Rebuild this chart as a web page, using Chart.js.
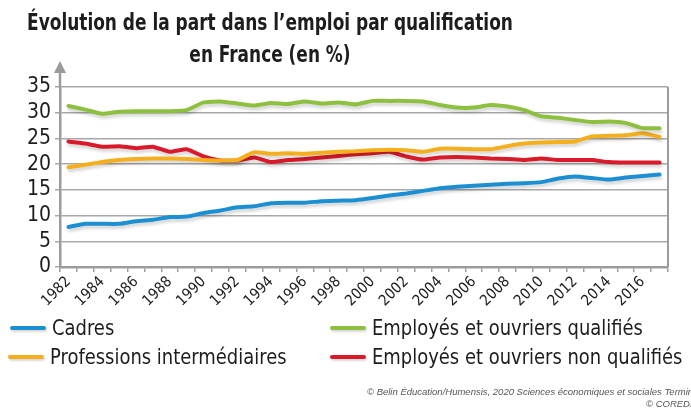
<!DOCTYPE html>
<html lang="fr">
<head>
<meta charset="utf-8">
<script src="https://cdn.jsdelivr.net/npm/chart.js@4.4.1/dist/chart.umd.min.js"></script>
<style>
  html, body { margin: 0; padding: 0; background: #fff; }
  body { width: 691px; height: 411px; position: relative; overflow: hidden; color: #1d1d1b;
         font-family: "DejaVu Sans Condensed", "DejaVu Sans", sans-serif; }
  #chartBox { position: absolute; left: 0; top: 0; width: 691px; height: 411px; }
  .title { position: absolute; left: 270px; font-weight: bold; font-size: 23px; line-height: 26px; white-space: nowrap;
           transform: translateX(-50%) scaleX(0.82); }
  .leg { position: absolute; font-size: 21px; white-space: nowrap; line-height: 22px; }
  .leg i { display: inline-block; width: 36px; height: 4px; border-radius: 2px; vertical-align: middle; margin-right: 6px; position: relative; top: -1px; box-shadow: 1px 2px 2px rgba(0,0,0,0.15); }
  .leg span { display: inline-block; transform: scaleX(0.95); transform-origin: left center; }
  .credit { position: absolute; font-family: "Liberation Sans", sans-serif; font-style: italic; font-size: 9.5px; color: #555; white-space: nowrap; }
</style>
</head>
<body>
<div id="chartBox"><canvas id="myChart" width="691" height="411"></canvas></div>
<div class="title" style="top:9px">Évolution de la part dans l’emploi par qualification</div>
<div class="title" style="top:41px">en France (en %)</div>

<div class="leg" style="left:10px;top:317px"><i style="background:#1b8fd2"></i><span>Cadres</span></div>
<div class="leg" style="left:330px;top:317px"><i style="background:#8dc03f"></i><span>Employés et ouvriers qualifiés</span></div>
<div class="leg" style="left:8px;top:346px"><i style="background:#f4ae1e"></i><span>Professions intermédiaires</span></div>
<div class="leg" style="left:330px;top:346px"><i style="background:#d91a2a"></i><span>Employés et ouvriers non qualifiés</span></div>

<div class="credit" style="left:367px;top:386px">© Belin Éducation/Humensis, 2020 Sciences économiques et sociales Terminale</div>
<div class="credit" style="left:646px;top:398px">© COREDIS</div>

<script>
// années et séries (en % de l'emploi)
const years = [
  "1982", "1983", "1984", "1985", "1986", "1987", "1988", "1989", "1990", "1991", "1992", "1993",
  "1994", "1995", "1996", "1997", "1998", "1999", "2000", "2001", "2002", "2003", "2004", "2005",
  "2006", "2007", "2008", "2009", "2010", "2011", "2012", "2013", "2014", "2015", "2016", "2017",
];
const cadres = [
  7.8, 8.4, 8.4, 8.4, 8.9, 9.2, 9.7, 9.8, 10.5, 11.0, 11.6, 11.8,
  12.4, 12.5, 12.5, 12.8, 12.9, 13.0, 13.4, 13.9, 14.3, 14.8, 15.3, 15.6,
  15.8, 16.0, 16.2, 16.3, 16.5, 17.2, 17.6, 17.3, 17.0, 17.4, 17.7, 18.0,
];
const qualifies = [
  31.3, 30.6, 29.8, 30.2, 30.3, 30.3, 30.3, 30.5, 32.0, 32.2, 31.8, 31.4,
  31.9, 31.7, 32.2, 31.8, 32.0, 31.6, 32.3, 32.3, 32.3, 32.2, 31.5, 31.0,
  31.0, 31.5, 31.2, 30.5, 29.3, 29.0, 28.6, 28.2, 28.3, 28.0, 27.0, 27.0,
];
const intermediaires = [
  19.4, 19.9, 20.4, 20.8, 21.0, 21.1, 21.1, 21.0, 20.8, 20.7, 20.8, 22.3,
  22.0, 22.1, 22.0, 22.2, 22.4, 22.5, 22.7, 22.8, 22.7, 22.4, 23.0, 23.0,
  22.9, 22.9, 23.5, 24.0, 24.2, 24.3, 24.4, 25.4, 25.5, 25.6, 26.0, 25.3,
];
const nonQualifies = [
  24.4, 24.0, 23.4, 23.5, 23.1, 23.4, 22.4, 22.9, 21.5, 20.7, 20.7, 21.3,
  20.4, 20.8, 21.0, 21.3, 21.6, 21.9, 22.1, 22.4, 21.5, 20.9, 21.3, 21.4,
  21.3, 21.1, 21.0, 20.8, 21.1, 20.8, 20.8, 20.8, 20.4, 20.3, 20.3, 20.3,
];

const FONT = "'DejaVu Sans Condensed', 'DejaVu Sans', sans-serif";
const AXIS = "#9b9b9b";

// ombre légère sous chaque courbe
const lineShadow = {
  id: "lineShadow",
  beforeDatasetDraw(chart) {
    const c = chart.ctx;
    c.save();
    c.shadowColor = "rgba(0,0,0,0.16)";
    c.shadowBlur = 3;
    c.shadowOffsetX = 1;
    c.shadowOffsetY = 3;
  },
  afterDatasetDraw(chart) { chart.ctx.restore(); },
};

// cadre droit + flèche en haut de l'axe vertical
const frame = {
  id: "frame",
  afterDraw(chart) {
    const { ctx, chartArea: a } = chart;
    ctx.save();
    ctx.strokeStyle = AXIS;
    ctx.lineWidth = 2;
    ctx.beginPath();
    ctx.moveTo(a.right, a.top);
    ctx.lineTo(a.right, a.bottom);
    ctx.stroke();
    ctx.lineWidth = 2.5;
    ctx.beginPath();
    ctx.moveTo(a.left, a.top);
    ctx.lineTo(a.left, a.top - 16);
    ctx.stroke();
    ctx.fillStyle = AXIS;
    ctx.beginPath();
    ctx.moveTo(a.left - 6, a.top - 14);
    ctx.lineTo(a.left + 6, a.top - 14);
    ctx.lineTo(a.left, a.top - 26);
    ctx.closePath();
    ctx.fill();
    ctx.restore();
  },
};

const line = (label, data, color) => ({
  label, data,
  borderColor: color,
  backgroundColor: color,
  borderWidth: 4,
  pointRadius: 0,
  tension: 0.15,
  borderCapStyle: "round",
  borderJoinStyle: "round",
});

new Chart(document.getElementById("myChart").getContext("2d"), {
  type: "line",
  data: {
    labels: years,
    datasets: [
      line("Cadres", cadres, "#1b8fd2"),
      line("Employés et ouvriers qualifiés", qualifies, "#8dc03f"),
      line("Professions intermédiaires", intermediaires, "#f4ae1e"),
      line("Employés et ouvriers non qualifiés", nonQualifies, "#d91a2a"),
    ],
  },
  options: {
    responsive: false,
    animation: false,
    layout: { padding: { top: 87, right: 23, bottom: 0, left: 0 } },
    plugins: { legend: { display: false }, tooltip: { enabled: false } },
    scales: {
      x: {
        offset: true,
        afterFit: (s) => { s.height = 144; },
        grid: { offset: true, drawOnChartArea: false, drawTicks: true, tickLength: 5, color: AXIS, lineWidth: 1.5 },
        border: { color: AXIS, width: 2.5 },
        ticks: {
          autoSkip: false,
          minRotation: 45,
          maxRotation: 45,
          padding: 1,
          color: "#1d1d1b",
          font: { family: FONT, size: 15 },
          callback: (v, i) => (i % 2 === 0 ? years[i] : ""),
        },
      },
      y: {
        min: 0,
        max: 35,
        afterFit: (s) => { s.width = 60; },
        grid: { color: "#a8a8a8", lineWidth: 1.5, tickLength: 5, drawTicks: true },
        border: { color: AXIS, width: 2.5 },
        ticks: { stepSize: 5, autoSkip: false, padding: 4, color: "#1d1d1b", font: { family: FONT, size: 21 } },
      },
    },
  },
  plugins: [lineShadow, frame],
});
</script>
</body>
</html>
